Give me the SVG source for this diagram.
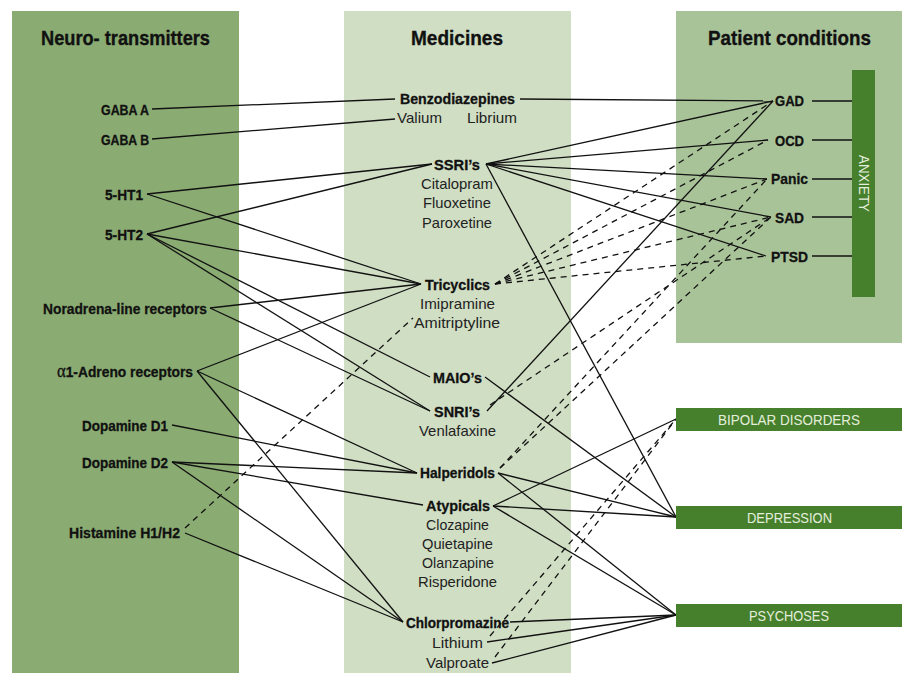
<svg xmlns="http://www.w3.org/2000/svg" width="902" height="673" viewBox="0 0 902 673">
<style>
text{font-family:"Liberation Sans Narrow","Liberation Sans",Arial,sans-serif;fill:#111}
.h{font-size:20.5px;font-weight:bold;stroke:#111;stroke-width:0.35}
.b{font-size:15px;font-weight:bold;stroke:#111;stroke-width:0.3}
.r{font-size:15px;fill:#222}
.w{font-size:14.5px;fill:#e4eedc}
.s{stroke:#111;stroke-width:1.3;fill:none}
.d{stroke:#111;stroke-width:1.3;fill:none;stroke-dasharray:6 5}
</style>
<rect x="12" y="11" width="227" height="662" fill="#8aab72"/>
<rect x="344" y="11" width="227" height="662" fill="#d0dec4"/>
<rect x="676" y="11" width="226" height="332" fill="#a9c399"/>

<g id="headers">
<text class="h" x="125.5" y="45" text-anchor="middle" textLength="169" lengthAdjust="spacingAndGlyphs">Neuro- transmitters</text>
<text class="h" x="457" y="45" text-anchor="middle" textLength="92" lengthAdjust="spacingAndGlyphs">Medicines</text>
<text class="h" x="789.5" y="45" text-anchor="middle" textLength="163" lengthAdjust="spacingAndGlyphs">Patient conditions</text>
</g>

<g id="connectors">
<line class="s" x1="152" y1="109" x2="395" y2="99"/>
<line class="s" x1="152" y1="139" x2="395" y2="119"/>
<line class="s" x1="147" y1="194" x2="432" y2="164"/>
<line class="s" x1="147" y1="234" x2="432" y2="164"/>
<line class="s" x1="147" y1="194" x2="421" y2="284"/>
<line class="s" x1="147" y1="234" x2="421" y2="284"/>
<line class="s" x1="147" y1="234" x2="430" y2="377"/>
<line class="s" x1="147" y1="234" x2="430" y2="411"/>
<line class="s" x1="210" y1="308" x2="421" y2="284"/>
<line class="s" x1="210" y1="308" x2="430" y2="411"/>
<line class="s" x1="197" y1="371" x2="421" y2="284"/>
<line class="s" x1="197" y1="371" x2="417" y2="473"/>
<line class="s" x1="197" y1="371" x2="403" y2="622"/>
<line class="s" x1="172" y1="425" x2="417" y2="473"/>
<line class="s" x1="172" y1="462" x2="417" y2="473"/>
<line class="s" x1="172" y1="462" x2="423" y2="505"/>
<line class="s" x1="172" y1="462" x2="403" y2="622"/>
<line class="s" x1="185" y1="533" x2="403" y2="622"/>
<line class="d" x1="185" y1="528" x2="413" y2="318"/>
<line class="s" x1="520" y1="99" x2="773" y2="101"/>
<line class="s" x1="486" y1="164" x2="773" y2="101"/>
<line class="s" x1="486" y1="164" x2="768" y2="140"/>
<line class="s" x1="486" y1="164" x2="767" y2="179"/>
<line class="s" x1="486" y1="164" x2="771" y2="217"/>
<line class="s" x1="486" y1="164" x2="766" y2="256"/>
<line class="s" x1="486" y1="164" x2="676" y2="517"/>
<line class="d" x1="495" y1="284" x2="773" y2="101"/>
<line class="d" x1="495" y1="284" x2="768" y2="140"/>
<line class="d" x1="495" y1="284" x2="767" y2="179"/>
<line class="d" x1="495" y1="284" x2="771" y2="217"/>
<line class="d" x1="495" y1="284" x2="766" y2="256"/>
<line class="s" x1="485" y1="377" x2="676" y2="517"/>
<line class="s" x1="487" y1="411" x2="773" y2="101"/>
<line class="d" x1="490" y1="405" x2="771" y2="217"/>
<line class="d" x1="500" y1="468" x2="767" y2="179"/>
<line class="d" x1="500" y1="468" x2="771" y2="217"/>
<line class="s" x1="498" y1="473" x2="676" y2="517"/>
<line class="s" x1="498" y1="473" x2="676" y2="615"/>
<line class="s" x1="493" y1="506" x2="676" y2="419"/>
<line class="s" x1="493" y1="506" x2="676" y2="517"/>
<line class="s" x1="493" y1="506" x2="676" y2="615"/>
<line class="s" x1="510" y1="622" x2="676" y2="615"/>
<line class="s" x1="487" y1="642" x2="676" y2="615"/>
<line class="s" x1="492" y1="663" x2="676" y2="615"/>
<line class="d" x1="490" y1="636" x2="676" y2="419"/>
<line class="d" x1="495" y1="657" x2="676" y2="419"/>
<line class="s" x1="812" y1="101" x2="852" y2="101"/>
<line class="s" x1="812" y1="140" x2="852" y2="140"/>
<line class="s" x1="812" y1="179" x2="852" y2="179"/>
<line class="s" x1="812" y1="217" x2="852" y2="217"/>
<line class="s" x1="812" y1="256" x2="852" y2="256"/>
</g>

<g id="neurotransmitters">
<g id="n-gabaa"><text class="b" x="149" y="115" text-anchor="end" textLength="48" lengthAdjust="spacingAndGlyphs">GABA A</text></g>
<g id="n-gabab"><text class="b" x="149" y="145" text-anchor="end" textLength="48" lengthAdjust="spacingAndGlyphs">GABA B</text></g>
<g id="n-5ht1"><text class="b" x="143" y="200" text-anchor="end" textLength="38" lengthAdjust="spacingAndGlyphs">5-HT1</text></g>
<g id="n-5ht2"><text class="b" x="143" y="240" text-anchor="end" textLength="38" lengthAdjust="spacingAndGlyphs">5-HT2</text></g>
<g id="n-nor"><text class="b" x="207" y="314" text-anchor="end" textLength="164" lengthAdjust="spacingAndGlyphs">Noradrena-line receptors</text></g>
<g id="n-alpha"><text class="b" x="193" y="377" text-anchor="end" textLength="136" lengthAdjust="spacingAndGlyphs"><tspan font-family="Liberation Serif,serif" font-weight="normal" font-size="18">α</tspan>1-Adreno receptors</text></g>
<g id="n-d1"><text class="b" x="168" y="431" text-anchor="end" textLength="86" lengthAdjust="spacingAndGlyphs">Dopamine D1</text></g>
<g id="n-d2"><text class="b" x="168" y="468" text-anchor="end" textLength="86" lengthAdjust="spacingAndGlyphs">Dopamine D2</text></g>
<g id="n-hist"><text class="b" x="180" y="538" text-anchor="end" textLength="111" lengthAdjust="spacingAndGlyphs">Histamine H1/H2</text></g>
</g>

<g id="medicines">
<g id="m-benzo">
<text class="b" x="400" y="104" textLength="115" lengthAdjust="spacingAndGlyphs">Benzodiazepines</text>
<text class="r" x="397" y="123" textLength="45" lengthAdjust="spacingAndGlyphs">Valium</text>
<text class="r" x="467" y="123" textLength="50" lengthAdjust="spacingAndGlyphs">Librium</text>
</g>
<g id="m-ssri">
<text class="b" x="434" y="170" textLength="46" lengthAdjust="spacingAndGlyphs">SSRI’s</text>
<text class="r" x="421" y="189" textLength="72" lengthAdjust="spacingAndGlyphs">Citalopram</text>
<text class="r" x="423" y="208" textLength="68" lengthAdjust="spacingAndGlyphs">Fluoxetine</text>
<text class="r" x="422" y="228" textLength="70" lengthAdjust="spacingAndGlyphs">Paroxetine</text>
</g>
<g id="m-tri">
<text class="b" x="425" y="290" textLength="65" lengthAdjust="spacingAndGlyphs">Tricyclics</text>
<text class="r" x="420" y="309" textLength="75" lengthAdjust="spacingAndGlyphs">Imipramine</text>
<text class="r" x="414" y="328" textLength="86" lengthAdjust="spacingAndGlyphs">Amitriptyline</text>
</g>
<g id="m-maio"><text class="b" x="433" y="383" textLength="49" lengthAdjust="spacingAndGlyphs">MAIO’s</text></g>
<g id="m-snri">
<text class="b" x="434" y="417" textLength="46" lengthAdjust="spacingAndGlyphs">SNRI’s</text>
<text class="r" x="419" y="436" textLength="77" lengthAdjust="spacingAndGlyphs">Venlafaxine</text>
</g>
<g id="m-halp"><text class="b" x="420" y="478" textLength="75" lengthAdjust="spacingAndGlyphs">Halperidols</text></g>
<g id="m-atyp">
<text class="b" x="426" y="511" textLength="64" lengthAdjust="spacingAndGlyphs">Atypicals</text>
<text class="r" x="426" y="530" textLength="63" lengthAdjust="spacingAndGlyphs">Clozapine</text>
<text class="r" x="422" y="549" textLength="71" lengthAdjust="spacingAndGlyphs">Quietapine</text>
<text class="r" x="422" y="568" textLength="72" lengthAdjust="spacingAndGlyphs">Olanzapine</text>
<text class="r" x="418" y="587" textLength="79" lengthAdjust="spacingAndGlyphs">Risperidone</text>
</g>
<g id="m-chlor"><text class="b" x="406" y="628" textLength="103" lengthAdjust="spacingAndGlyphs">Chlorpromazine</text></g>
<g id="m-lith"><text class="r" x="432" y="648" textLength="51" lengthAdjust="spacingAndGlyphs">Lithium</text></g>
<g id="m-valp"><text class="r" x="426" y="668" textLength="63" lengthAdjust="spacingAndGlyphs">Valproate</text></g>
</g>

<g id="conditions">
<g id="c-gad"><text class="b" x="789.5" y="106" text-anchor="middle" textLength="29" lengthAdjust="spacingAndGlyphs">GAD</text></g>
<g id="c-ocd"><text class="b" x="789.5" y="146" text-anchor="middle" textLength="29" lengthAdjust="spacingAndGlyphs">OCD</text></g>
<g id="c-panic"><text class="b" x="789.5" y="184" text-anchor="middle" textLength="37" lengthAdjust="spacingAndGlyphs">Panic</text></g>
<g id="c-sad"><text class="b" x="789.5" y="223" text-anchor="middle" textLength="29" lengthAdjust="spacingAndGlyphs">SAD</text></g>
<g id="c-ptsd"><text class="b" x="789.5" y="262" text-anchor="middle" textLength="37" lengthAdjust="spacingAndGlyphs">PTSD</text></g>
<g id="c-anxiety">
<rect x="852" y="70" width="23" height="227" fill="#47802c"/>
<text class="w" transform="translate(858.5 183.5) rotate(90)" text-anchor="middle" textLength="57" lengthAdjust="spacingAndGlyphs">ANXIETY</text>
</g>
<g id="c-bipolar">
<rect x="676" y="408" width="226" height="23" fill="#47802c"/>
<text class="w" x="789" y="424.5" text-anchor="middle" textLength="142" lengthAdjust="spacingAndGlyphs">BIPOLAR DISORDERS</text>
</g>
<g id="c-depression">
<rect x="676" y="506" width="226" height="23" fill="#47802c"/>
<text class="w" x="789.5" y="522.5" text-anchor="middle" textLength="85" lengthAdjust="spacingAndGlyphs">DEPRESSION</text>
</g>
<g id="c-psychoses">
<rect x="676" y="604" width="226" height="23" fill="#47802c"/>
<text class="w" x="789" y="620.5" text-anchor="middle" textLength="80" lengthAdjust="spacingAndGlyphs">PSYCHOSES</text>
</g>
</g>
</svg>
